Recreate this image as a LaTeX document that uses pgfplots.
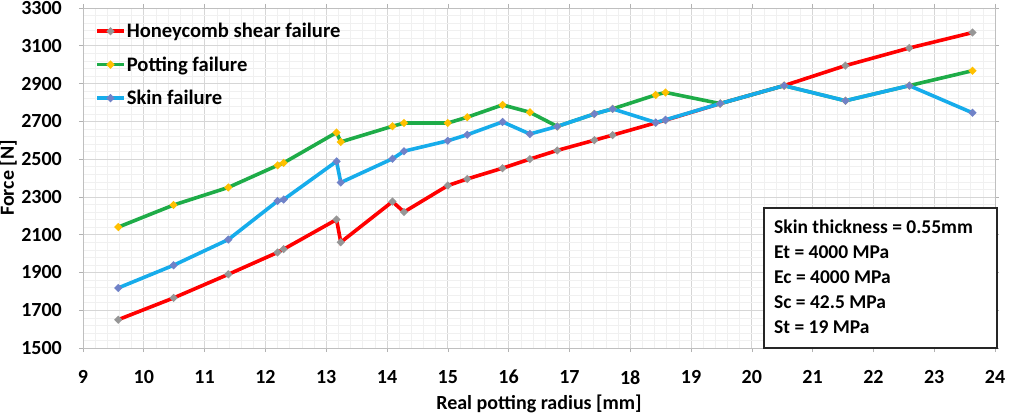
\documentclass[border=0pt]{standalone}
\usepackage{fontspec}
\setmainfont{Carlito}
\usepackage{pgfplots}
\usepackage{pgfplotstable}
\pgfplotsset{compat=1.18}

\definecolor{cRed}{RGB}{255,0,0}
\definecolor{cGreen}{RGB}{30,172,72}
\definecolor{cBlue}{RGB}{22,172,235}
\definecolor{mGrey}{RGB}{150,150,150}
\definecolor{mGold}{RGB}{255,192,0}
\definecolor{mSlate}{RGB}{112,130,200}

% radius [mm], failure loads [N] for the three failure modes
\pgfplotstableread{
r      shear  potting  skin
9.58   1650   2140     1818
10.49  1765   2257     1938
11.39  1890   2350     2074
12.20  2006   2467     2278
12.30  2023   2480     2286
13.17  2180   2641     2488
13.24  2060   2591     2376
14.09  2275   2674     2502
14.28  2220   2691     2542
15.00  2360   2691     2597
15.32  2395   2722     2629
15.90  2452   2787     2697
16.35  2500   2748     2633
16.80  2546   2673     2673
17.41  2600   2739     2739
17.71  2627   2766     2766
18.42  2692   2840     2694
18.58  2706   2853     2708
19.48  2794   2794     2794
20.53  2889   2889     2889
21.54  2995   2809     2809
22.59  3088   2889     2889
23.63  3170   2968     2745
}\loads

\newcommand{\chartfont}{\fontsize{20}{24}\selectfont\bfseries}
\newcommand{\legendfont}{\fontsize{20.6}{24}\selectfont\bfseries}
\newcommand{\boxfont}{\fontsize{19.5}{24}\selectfont\bfseries}

\begin{document}
\begin{tikzpicture}
\begin{axis}[
  name=ax,
  scale only axis,
  width=912pt, height=340pt,
  xmin=9, xmax=24, ymin=1500, ymax=3300,
  xtick={9,10,...,24},
  ytick={1500,1700,...,3300},
  minor x tick num=4, minor y tick num=4,
  grid=both,
  major grid style={draw=black!16, line width=0.7pt},
  minor grid style={draw=black!6, line width=0.5pt},
  axis line style={draw=black!25, line width=0.7pt},
  tick style={draw=black!30, line width=0.6pt},
  tick align=outside,
  major tick length=4pt, minor tick length=0pt,
  /pgf/number format/assume math mode=true,
  /pgf/number format/1000 sep={},
  ticklabel style={font=\chartfont, inner sep=0pt},
  yticklabel style={xshift=-17pt},
  xticklabel style={yshift=-18pt},
  xlabel={Real potting radius [mm]},
  ylabel={Force [N]},
  label style={font=\chartfont},
  xlabel style={at={(axis description cs:0.5,-0.165)}, anchor=center},
  ylabel style={at={(axis description cs:-0.0822,0.5)}, anchor=center},
  legend cell align=left,
  legend style={at={(axis description cs:0,1)}, anchor=north west,
    xshift=12pt, yshift=-15pt,
    draw=none, fill=none, font=\legendfont, inner sep=0pt, row sep=17.5pt,
    nodes={inner xsep=1pt, inner ysep=0pt}},
  legend image code/.code={%
    \draw[mark repeat=2, mark phase=2, #1]
      plot coordinates {(0pt,0pt) (13.5pt,0pt) (27pt,0pt)};},
  every axis plot/.append style={line width=3.6pt,
    mark=*, mark size=1.6pt, mark options={line width=0.3pt}},
]
\addplot[cRed, mark options={fill=mGrey, draw=mGrey}] table[x=r, y=shear] {\loads};
\addlegendentry{Honeycomb shear failure}
\addplot[cGreen, mark options={fill=mGold, draw=mGold}] table[x=r, y=potting] {\loads};
\addlegendentry{Potting failure}
\addplot[cBlue, mark options={fill=mSlate, draw=mSlate}] table[x=r, y=skin] {\loads};
\addlegendentry{Skin failure}
\end{axis}

% material data box in the lower right corner
\draw[line width=2pt, draw=black!85, fill=white]
  ([xshift=-231pt, yshift=0.3pt]ax.south east) rectangle
  ([xshift=1.7pt, yshift=139.7pt]ax.south east);
\foreach \txt [count=\i] in {Skin thickness = 0.55mm, Et = 4000 MPa,
    Ec = 4000 MPa, Sc = 42.5 MPa, St = 19 MPa}
  \node[font=\boxfont, anchor=base west, inner sep=0pt]
    at ([xshift=-221pt, yshift={139pt-25pt*\i}]ax.south east) {\txt};

\pgfresetboundingbox
\path ([xshift=-83pt, yshift=-67pt]ax.south west) rectangle
      ([xshift=14pt, yshift=8pt]ax.north east);
\end{tikzpicture}
\end{document}
